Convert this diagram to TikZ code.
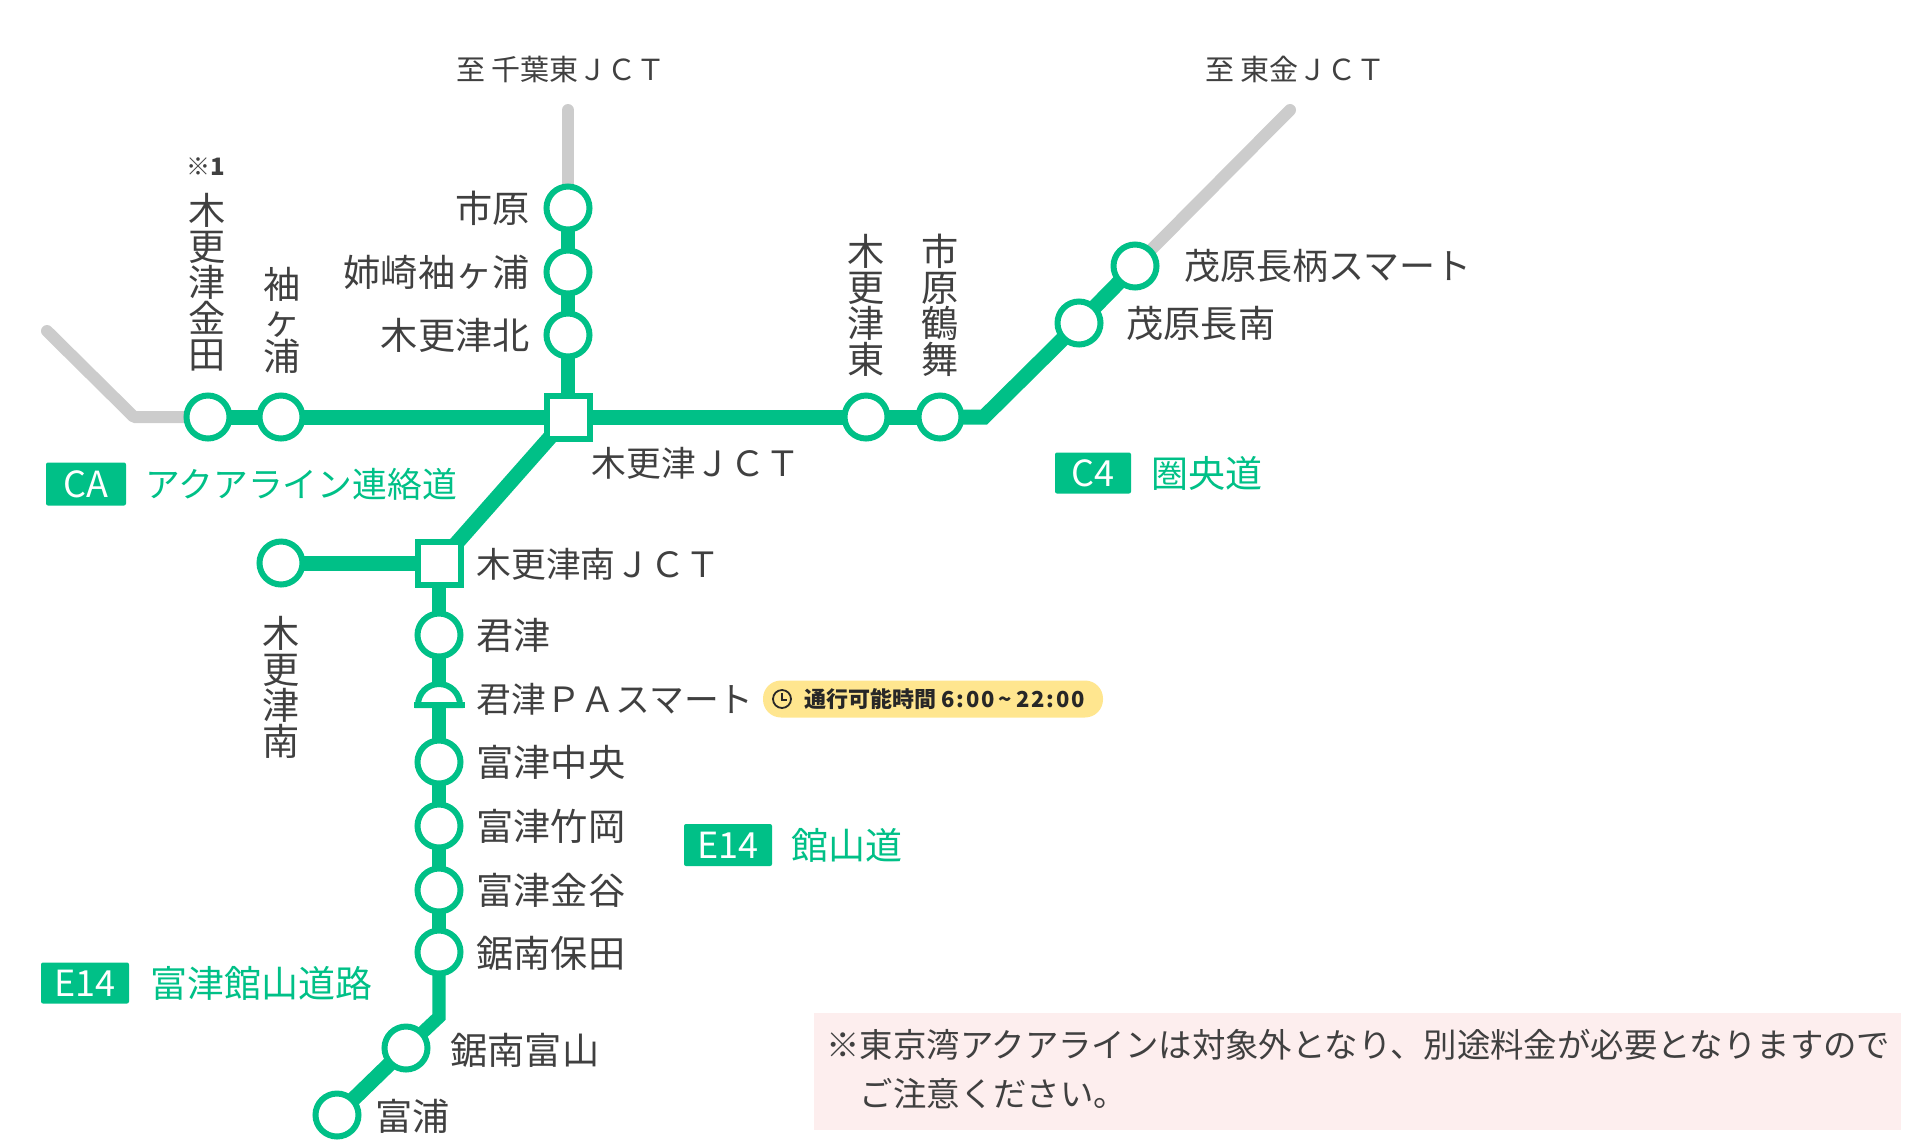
\documentclass[tikz,border=0pt]{standalone}
\usepackage{fontspec}
\setmainfont{Noto Sans CJK JP}
\usetikzlibrary{backgrounds,positioning}
\definecolor{roadC}{RGB}{0,192,135}
\definecolor{greyC}{RGB}{204,204,204}
\definecolor{textC}{RGB}{64,64,64}
\definecolor{pinkC}{RGB}{253,238,238}
\definecolor{pillC}{RGB}{255,230,143}
\tikzset{
    roadG/.style={draw=roadC, line width=7.5pt},
    roadV/.style={draw=roadC, line width=6.6pt},
    roadX/.style={draw=greyC, line width=6pt, line cap=round, line join=round},
    stn/.style={circle, draw=roadC, fill=white, line width=3pt, minimum size=21.5pt, inner sep=0pt},
    jct/.style={rectangle, draw=roadC, fill=white, line width=3pt, minimum size=21.5pt, inner sep=0pt},
    lbl/.style={font=\fontsize{18.6}{18}\selectfont, text=textC, inner sep=0pt},
    lblE/.style={lbl, anchor=east},
    lblW/.style={lbl, anchor=west},
    lblN/.style={lbl, anchor=west, font=\fontsize{17.4}{18}\selectfont},
    lblV/.style={lbl, align=center},
    lblTo/.style={font=\fontsize{14.5}{14}\selectfont, text=textC, inner sep=0pt},
    badge/.style={fill=roadC, text=white, rounded corners=1pt, inner sep=0pt, font=\fontsize{18}{18}\selectfont},
    road/.style={anchor=west, text=roadC, inner sep=0pt, font=\fontsize{18.5}{18}\selectfont}
}
\begin{document}
\begin{tikzpicture}[x=0.5pt,y=-0.5pt]
    \useasboundingbox (0,0) rectangle (1920,1147);
    % stations
    \foreach \s/\x/\y in {ichi/568/208, ane/568/272, kitA/568/335, kane/208/417, sode/281/417,
        higa/866/417, tsuru/940/417, mn/1079/323, ms/1135/266, minA/281/563, kimi/439/635,
        fc/439/762, ft/439/826, fk/439/890, ho/439/952, tomi/406/1048, ura/337/1115}{
    \node[stn] (\s) at (\x,\y) {};}
    \node[jct] (j1) at (568,417) {};
    \node[jct] (j2) at (439,563) {};
    \coordinate (g1) at (568,110);
    \coordinate (g2) at (47,331);
    \coordinate (g3) at (134,417);
    \coordinate (g4) at (1290,110);
    \coordinate (c1) at (984,417);
    \coordinate (c2) at (439,1017);
    \coordinate (paB) at (439,705);
    \begin{scope}[on background layer]
    \draw[roadX] (g1) -- (ichi.center);
    \draw[roadX] (g2) -- (g3) -- (kane.center);
    \draw[roadX] (g4) -- (ms.center);
    \draw[roadV] (ichi.center) -- (ane.center);
    \draw[roadV] (ane.center) -- (kitA.center);
    \draw[roadV] (kitA.center) -- (j1.center);
    \draw[roadG] (kane.center) -- (sode.center);
    \draw[roadG] (sode.center) -- (j1.center);
    \draw[roadG] (j1.center) -- (higa.center);
    \draw[roadG] (higa.center) -- (tsuru.center);
    \draw[roadG] (tsuru.center) -- (c1) -- (mn.center);
    \draw[roadG] (mn.center) -- (ms.center);
    \draw[roadG] (j1.center) -- (j2.center);
    \draw[roadG] (j2.center) -- (minA.center);
    \draw[roadV] (j2.center) -- (kimi.center);
    \draw[roadV] (kimi.center) -- (paB);
    \draw[roadV] (paB) -- (fc.center);
    \draw[roadV] (fc.center) -- (ft.center);
    \draw[roadV] (ft.center) -- (fk.center);
    \draw[roadV] (fk.center) -- (ho.center);
    \draw[roadV] (ho.center) -- (c2) -- (tomi.center);
    \draw[roadG] (tomi.center) -- (ura.center);
    \end{scope}
    % parking area mark
    \draw[draw=roadC, fill=white, line width=3pt] (418,705) arc[start angle=180, end angle=360, radius=21] -- cycle;
    \draw[draw=roadC, line width=3pt] (414,705) -- (465,705);
    % labels
    \node[lblE] (tIchi) at (530,208) {市原};
    \node[lblE] (tAne) at (530,272) {姉崎袖ヶ浦};
    \node[lblE] (tKita) at (530,335) {木更津北};
    \node[lblV] (tKane) at (207,282) {木\\更\\津\\金\\田};
    \node[font=\fontsize{12}{12}\selectfont, text=textC, inner sep=0pt] (tNote) at (206,167) {※\textbf{1}};
    \node[lblV] (tSode) at (282,320) {袖\\ヶ\\浦};
    \node[lblV] (tHiga) at (866,305) {木\\更\\津\\東};
    \node[lblV] (tTsuru) at (940,305) {市\\原\\鶴\\舞};
    \node[lblV] (tMin) at (281,687) {木\\更\\津\\南};
    \node[lblN] (tJ1) at (591,463) {木更津ＪＣＴ};
    \node[lblN] (tJ2) at (476,564) {木更津南ＪＣＴ};
    \node[lblW] (tKimi) at (476,635) {君津};
    \node[lblN] (tPa) at (476,699) {君津ＰＡスマート};
    \node[lblW] (tFc) at (476,762) {富津中央};
    \node[lblW] (tFt) at (476,826) {富津竹岡};
    \node[lblW] (tFk) at (476,890) {富津金谷};
    \node[lblW] (tHo) at (476,953) {鋸南保田};
    \node[lblW] (tTomi) at (450,1050) {鋸南富山};
    \node[lblW] (tUra) at (375,1116) {富浦};
    \node[lblW, font=\fontsize{18}{18}\selectfont] (tMs) at (1184,266) {茂原長柄スマート};
    \node[lblW] (tMn) at (1126,323) {茂原長南};
    \node[lblTo, anchor=west] (toA) at (456,69) {至 千葉東ＪＣＴ};
    \node[lblTo, anchor=west] (toB) at (1205,69) {至 東金ＪＣＴ};
    % road names
    \node[badge, minimum width=40pt, minimum height=21.5pt] (bCa) at (86,484) {CA};
    \node[road, font=\fontsize{17.4}{18}\selectfont] (rCa) at (145,484) {アクアライン連絡道};
    \node[badge, minimum width=38pt, minimum height=20.5pt] (bC4) at (1093,473) {C4};
    \node[road] (rC4) at (1151,473) {圏央道};
    \node[badge, minimum width=44pt, minimum height=21pt] (bE1) at (728,845) {E14};
    \node[road] (rE1) at (791,845) {館山道};
    \node[badge, minimum width=44pt, minimum height=20.5pt] (bE2) at (85,983) {E14};
    \node[road] (rE2) at (150,983) {富津館山道路};
    % opening hours
    \node[fill=pillC, rounded corners=9pt, minimum width=170pt, minimum height=18.5pt, inner sep=0pt] (pill) at (933,699) {};
    \draw[textC!60!black, line width=0.9pt] (782,699) circle[radius=9];
    \draw[textC!60!black, line width=0.8pt] (782,693) -- (782,700) -- (787,700);
    \node[anchor=west, inner sep=0pt, text=textC!60!black, font=\fontsize{11}{12}\selectfont\bfseries] (tHour) at (804,699) {通行可能時間 \addfontfeature{LetterSpace=9}6:00\,\textasciitilde\,22:00};
    % notice
    \node[fill=pinkC, minimum width=543.5pt, minimum height=58.5pt, inner sep=0pt] (note) at (1357.5,1071.5) {};
    \node[anchor=west, align=left, inner sep=0pt, text=textC, font=\fontsize{16.7}{24.2}\selectfont] (tNotice) at (826,1069) {※東京湾アクアラインは対象外となり、別途料金が必要となりますので\\\hspace{1em}ご注意ください。};
\end{tikzpicture}
\end{document}
